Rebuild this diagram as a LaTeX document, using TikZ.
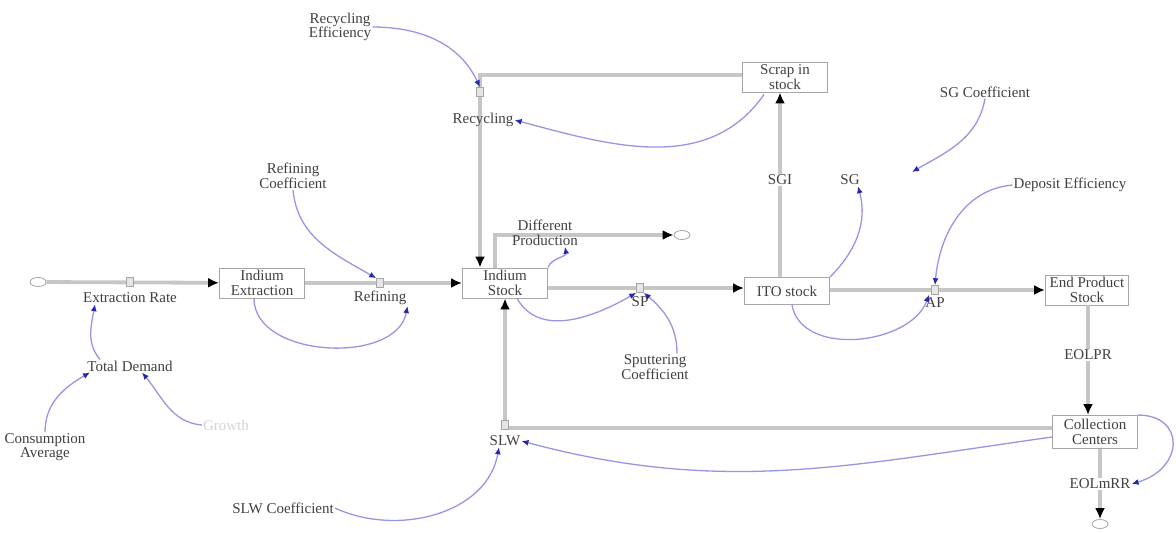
\documentclass[tikz,border=0pt]{standalone}
\usepackage{fontspec}
\setmainfont{Liberation Serif}
\usetikzlibrary{arrows.meta,shapes.geometric}

\definecolor{linkblue}{RGB}{150,150,228}
\definecolor{tipblue}{RGB}{40,40,170}

\tikzset{
  every node/.style={font=\fontsize{15}{14.5}\selectfont, text=black!75},
  stock/.style={draw=gray!70, line width=0.9pt, fill=white, minimum width=85pt,
    minimum height=30pt, align=center, inner sep=1pt},
  pipe/.style={draw=gray!45, line width=3.8pt, -{Latex[length=11pt,width=10pt,color=black]}},
  valve/.style={draw=gray!70, fill=gray!20, line width=0.6pt, minimum width=7pt,
    minimum height=9pt, inner sep=0pt},
  flowlbl/.style={inner sep=1pt, align=center},
  aux/.style={inner sep=1pt, align=center},
  infl/.style={draw=linkblue, line width=1.3pt,
    -{Latex[length=7pt,width=6pt,color=tipblue]}},
  cloud/.style={ellipse, draw=gray!70, fill=white, line width=0.8pt,
    minimum width=16pt, minimum height=9pt, inner sep=0pt}
}

\begin{document}
\begin{tikzpicture}[x=1pt,y=-1pt]
  \useasboundingbox (0,0) rectangle (1176,533);

  % stocks and clouds
  \node[stock] (ext) at (262,283) {Indium\\Extraction};
  \node[stock] (ind) at (505,283) {Indium\\Stock};
  \node[stock] (scrap) at (785,77) {Scrap in\\stock};
  \node[stock, minimum height=27pt] (ito) at (787,291) {ITO stock};
  \node[stock, minimum width=83pt] (eps) at (1087,290) {End Product\\Stock};
  \node[stock, minimum height=33pt] (coll) at (1095,432) {Collection\\Centers};
  \node[cloud] (cloudA) at (38,282) {};
  \node[cloud] (cloudD) at (682,235) {};
  \node[cloud] (cloudE) at (1100,524) {};

  % corners of the pipes
  \coordinate (cR) at (480,75);
  \coordinate (cD) at (495,235);
  \coordinate (cS) at (780,180);
  \coordinate (cE) at (1088,355);
  \coordinate (cW) at (505,428);
  \coordinate (cX) at (1100,484);

  % flows
  \draw[pipe] (cloudA) -- (ext);
  \draw[pipe] (ext) -- (ind);
  \draw[pipe] (scrap.west |- cR) -- (cR) -- (cR |- ind.north);
  \draw[pipe] (ind.north -| cD) -- (cD) -- (cloudD);
  \draw[pipe] (ind.east |- 0,288) -- (ito.west |- 0,288);
  \draw[pipe] (ito.north -| cS) -- (scrap.south -| cS);
  \draw[pipe] (ito.east |- 0,290) -- (eps.west |- 0,290);
  \draw[pipe] (eps.south -| cE) -- (coll.north -| cE);
  \draw[pipe] (coll.west |- cW) -- (cW) -- (ind.south);
  \draw[pipe] (coll.south -| cX) -- (cloudE);

  % valves
  \node[valve] (vExt) at (130,282) {};
  \node[valve] (vRef) at (380,283) {};
  \node[valve] (vRec) at (480,92) {};
  \node[valve] (vSP) at (640,288) {};
  \node[valve] (vAP) at (935,290) {};
  \node[valve] (vSLW) at (505,425) {};

  % flow names
  \node[flowlbl] (extrate) at (130,298) {Extraction Rate};
  \node[flowlbl] (refin) at (380,298) {Refining};
  \node[flowlbl] (recyc) at (483,120) {Recycling};
  \node[flowlbl] (difp) at (545,233) {Different\\Production};
  \node[flowlbl] (sp) at (640,302) {SP};
  \node[flowlbl, fill=white] (sgi) at (cS) {SGI};
  \node[flowlbl] (ap) at (935,303) {AP};
  \node[flowlbl, fill=white] (eolpr) at (cE) {EOLPR};
  \node[flowlbl] (slw) at (505,441) {SLW};
  \node[flowlbl, fill=white] (eolm) at (cX) {EOLmRR};

  % auxiliaries
  \node[aux] (receff) at (340,27) {Recycling\\Efficiency};
  \node[aux] (refc) at (293,176) {Refining\\Coefficient};
  \node[aux] (totdem) at (130,366) {Total Demand};
  \node[aux] (consav) at (45,447) {Consumption\\Average};
  \node[aux, text=gray!35] (ghost) at (226,425) {Growth};
  \node[aux] (slwc) at (283,508) {SLW Coefficient};
  \node[aux] (sputc) at (655,367) {Sputtering\\Coefficient};
  \node[aux] (sg) at (850,180) {SG};
  \node[aux] (sgc) at (985,92) {SG Coefficient};
  \node[aux] (depeff) at (1070,185) {Deposit Efficiency};
  \coordinate (cSG) at (912,172);

  % links
  \draw[infl] (receff.east) to[out=0,in=115] (vRec.north);
  \draw[infl] (scrap.south west) ++(22,2) to[out=-125,in=-15] (recyc.east);
  \draw[infl] (refc.south) to[out=-85,in=150] (vRef.north west);
  \draw[infl] ([xshift=-8pt]ext.south) to[out=-90,in=-100] (refin.south east);
  \draw[infl] ([xshift=-30pt]totdem.north) to[out=130,in=-100] ([xshift=-35pt]extrate.south);
  \draw[infl] (consav.north) to[out=90,in=-150] ([xshift=-40pt]totdem.south);
  \draw[infl] (ghost.west) to[out=175,in=-50] ([xshift=12pt]totdem.south);
  \draw[infl] (ind.north east) to[out=70,in=-80] ([xshift=20pt]difp.south);
  \draw[infl] ([xshift=12pt]ind.south) to[out=-60,in=-150] (vSP.south west);
  \draw[infl] ([xshift=22pt]sputc.north) to[out=90,in=-40] (vSP.south east);
  \draw[infl] (ito.north east) to[out=45,in=-75] ([xshift=8pt]sg.south);
  \draw[infl] (sgc.south) to[out=-100,in=30] (cSG);
  \draw[infl] (depeff.west) to[out=-175,in=85] (vAP.north);
  \draw[infl] ([xshift=5pt]ito.south) to[out=-80,in=-110] ([xshift=-6pt]vAP.south);
  \draw[infl] (slwc.east) to[out=-25,in=-100] ([xshift=-6pt]slw.south);
  \draw[infl] ([yshift=-5pt]coll.west) to[out=-172,in=-15] (slw.east);
  \draw[infl] (coll.north east) .. controls (1185,415) and (1185,468) .. (eolm.east);
\end{tikzpicture}
\end{document}
